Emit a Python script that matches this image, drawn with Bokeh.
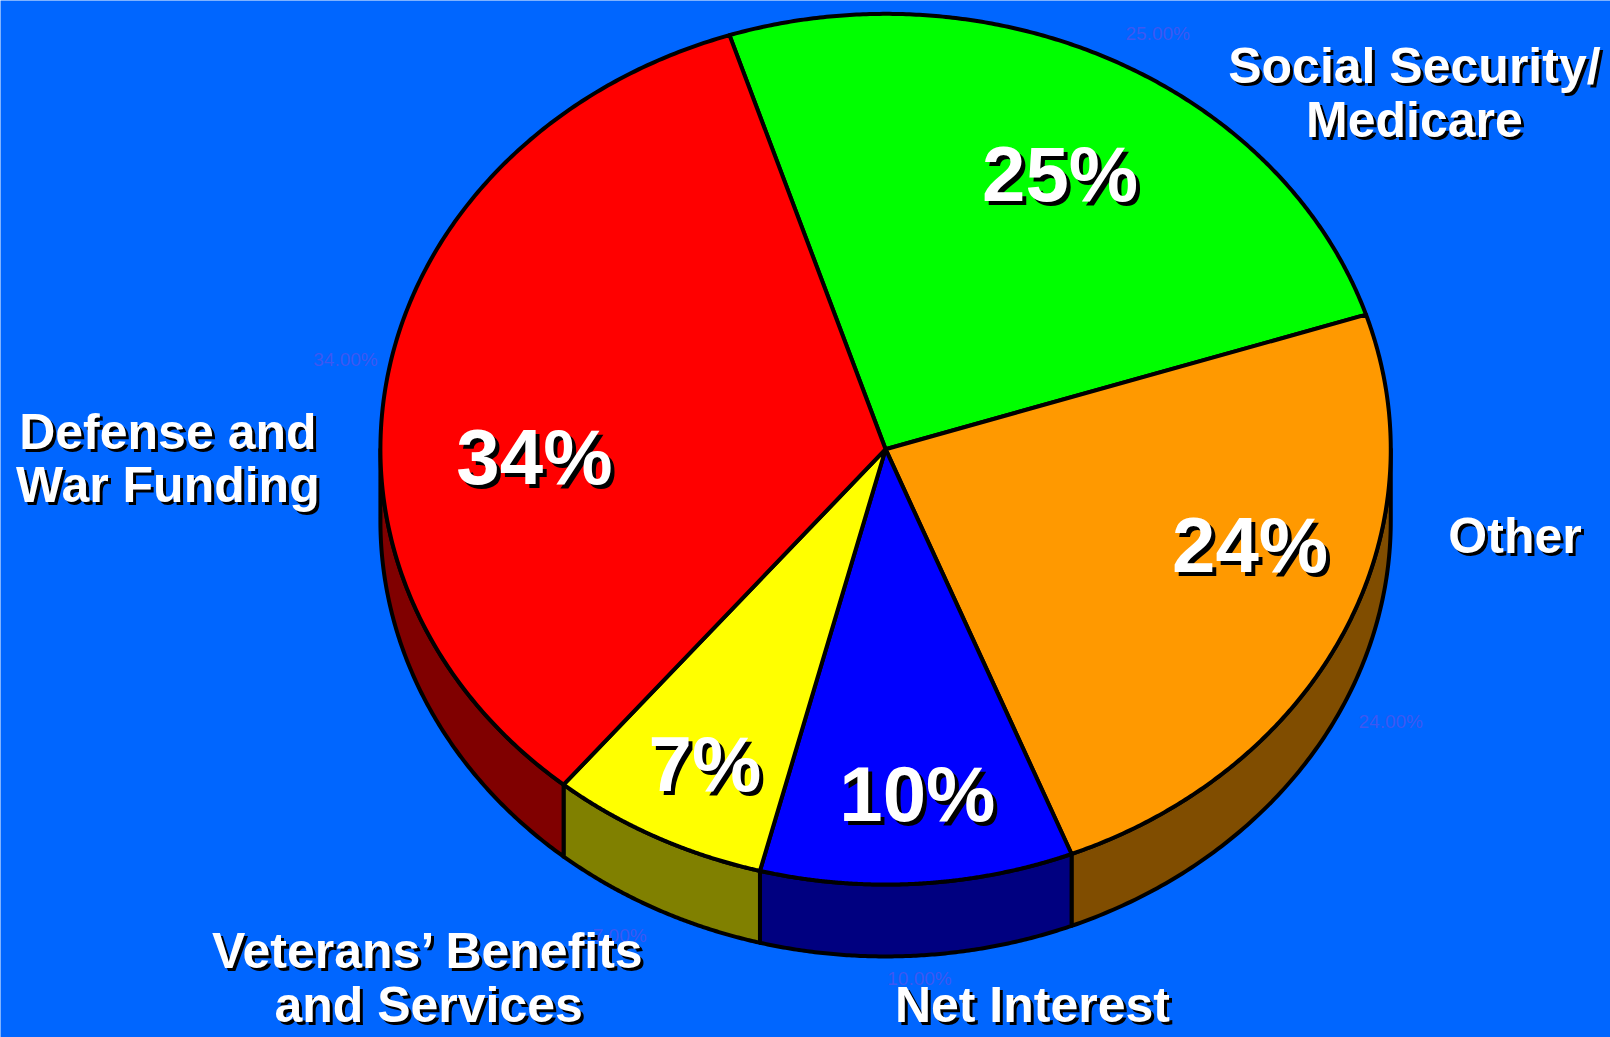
import numpy as np
from bokeh.plotting import figure
from bokeh.models import Range1d, ColumnDataSource
from bokeh.core.properties import value
from bokeh.embed import file_html
from bokeh.resources import INLINE

# ---------------- data ----------------
categories = ["Social Security/Medicare", "Other", "Net Interest",
              "Veterans’ Benefits and Services", "Defense and War Funding"]
label_lines = [["Social Security/", "Medicare"], ["Other"], ["Net Interest"],
               ["Veterans’ Benefits", "and Services"], ["Defense and", "War Funding"]]
values = [25, 24, 10, 7, 34]
pct_labels = ["25%", "24%", "10%", "7%", "34%"]
value_labels = ["25.00%", "24.00%", "10.00%", "7.00%", "34.00%"]
top_colors = ["#00FF00", "#FF9900", "#0000FF", "#FFFF00", "#FF0000"]
side_colors = ["#008000", "#804D00", "#000080", "#808000", "#800000"]

# ---------------- layout ----------------
S = 1610 / 1568.0          # screen px per data unit
W, H = 1610, 1037
BG = "#0066FF"
CX, CY, RX, RY, DEPTH = 862.0, 437.0, 492.0, 424.0, 70.0
START = 108.0              # degrees, slices run clockwise
BASE_FIX = 0.37            # baseline correction (fraction of font size)

pct_pos = [(1032, 197), (1217, 558), (893, 801), (686, 772), (520, 473)]
cat_pos = [(1377, [82, 134]), (1475, [540]), (1005, [996]),
           (417, [944, 996]), (163, [438, 490])]
val_pos = [(1127, 39), (1354, 709), (895, 959), (603, 917), (336, 356)]

p = figure(width=W, height=H, output_backend="svg", toolbar_location=None,
           x_range=Range1d(0, W / S), y_range=Range1d(H / S, 0),
           x_axis_location=None, y_axis_location=None, min_border=0,
           background_fill_color=BG, border_fill_color=BG, outline_line_color=None)
p.grid.visible = False

def ell(t_deg, dy=0.0):
    t = np.radians(t_deg)
    return CX + RX * np.cos(t), CY - RY * np.sin(t) + dy

vals = np.array(values, dtype=float)
ang = vals / vals.sum() * 360.0
starts = START - np.concatenate([[0], np.cumsum(ang)[:-1]])
ends = starts - ang

# sides (front half only: t in [-180, 0] mod 360)
sx, sy, sc = [], [], []
for i in range(len(values)):
    s, e = starts[i], ends[i]
    for k in (-1, 0, 1):
        lo = max(e, -180 + 360 * k)
        hi = min(s, 0 + 360 * k)
        if hi - lo > 0.01:
            t = np.linspace(hi, lo, 120)
            x1, y1 = ell(t)
            x2, y2 = ell(t[::-1], DEPTH)
            sx.append(np.concatenate([x1, x2]).tolist())
            sy.append(np.concatenate([y1, y2]).tolist())
            sc.append(side_colors[i])
p.patches(xs="xs", ys="ys", fill_color="c", source=ColumnDataSource(dict(xs=sx, ys=sy, c=sc)),
          line_color="black", line_width=4, line_join="round")

# top faces
tx, ty = [], []
for i in range(len(values)):
    t = np.linspace(starts[i], ends[i], 240)
    x, y = ell(t)
    tx.append([CX] + x.tolist())
    ty.append([CY] + y.tolist())
p.patches(xs="xs", ys="ys", fill_color="c", source=ColumnDataSource(dict(xs=tx, ys=ty, c=top_colors)),
          line_color="black", line_width=4, line_join="round")

FONT = value("Liberation Sans")

def shadow_text(xs, ys, texts, size, off):
    d = off / S
    fix = BASE_FIX * size / S
    ys = [y - fix for y in ys]
    fs = value(f"{size}px")
    p.text(x=[x + d for x in xs], y=[y + d for y in ys], text=texts, text_color="black",
           text_font=FONT, text_font_style="bold", text_font_size=fs,
           text_align="center", text_baseline="alphabetic")
    p.text(x=xs, y=ys, text=texts, text_color="white",
           text_font=FONT, text_font_style="bold", text_font_size=fs,
           text_align="center", text_baseline="alphabetic")

# faint value labels
vfix = BASE_FIX * 19 / S
p.text(x=[q[0] for q in val_pos], y=[q[1] - vfix for q in val_pos], text=value_labels,
       text_color="#3D58F2", text_font=FONT, text_font_size=value("19px"),
       text_align="center", text_baseline="alphabetic")

# percent labels
shadow_text([q[0] for q in pct_pos], [q[1] for q in pct_pos], pct_labels, 78, 4)

# category labels
cx_l, cy_l, ct = [], [], []
for (x, ys), lines in zip(cat_pos, label_lines):
    for y, ln in zip(ys, lines):
        cx_l.append(x); cy_l.append(y); ct.append(ln)
shadow_text(cx_l, cy_l, ct, 50, 3)

open("out.html", "w").write(file_html(p, INLINE))
